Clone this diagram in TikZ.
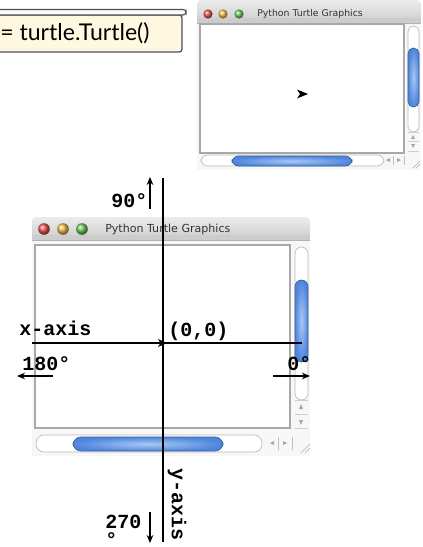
\documentclass[tikz,border=0pt]{standalone}
\usepackage{fontspec}
\setmainfont{Lato}
\newfontfamily\cour{Liberation Mono}
\newfontfamily\lucida{DejaVu Sans}
\usetikzlibrary{arrows.meta}
\definecolor{cream}{HTML}{FFF8E0}
\definecolor{boxline}{HTML}{4A5068}
\definecolor{tlred}{HTML}{E8554E}
\definecolor{tlyel}{HTML}{F5BE4A}
\definecolor{tlgrn}{HTML}{70CC60}
\definecolor{thumb}{HTML}{4F86DC}
\definecolor{thumblt}{HTML}{A9C8F4}
\definecolor{frame}{HTML}{A8A8A8}
\tikzset{
  lbl/.style={font=\cour\bfseries\fontsize{15}{18}\selectfont, inner sep=0pt, anchor=base west},
  axis/.style={line width=1.5pt},
  dirarrow/.style={line width=1.1pt, -{Stealth[length=6pt,width=5pt]}},
  track/.style={draw=frame!80, fill=white, line width=0.5pt},
  thumbbar/.style={draw=thumb!70!black, line width=0.5pt, inner color=thumblt, outer color=thumb},
  btn/.style={fill=gray!70, draw=none},
}
\begin{document}
\begin{tikzpicture}[x=0.75pt,y=-0.75pt]
\useasboundingbox (0,0) rectangle (423,547);

% ---------- top-left code box ----------
\draw[boxline, line width=1pt, fill=cream, rounded corners=2pt] (-5,15) rectangle (182,52);
\draw[boxline, line width=0.9pt, fill=cream!60!white, rounded corners=2.2pt] (-5,9.5) rectangle (186,15);
\node[anchor=west, inner sep=0pt, font=\fontsize{17.3}{20}\selectfont] (code) at (0,33) {= turtle.Turtle()};

% ---------- top-right window ----------
\fill[gray!6] (197,22) rectangle (421,170);
\shade[top color=gray!15, bottom color=gray!40, rounded corners=3pt] (197,0) rectangle (421,23);
\fill[gray!40] (197,18) rectangle (421,23);
\draw[gray!60, line width=0.6pt] (197,23) -- (421,23);
\fill[white] (200,24) rectangle (404,153);
\draw[frame, line width=1.2pt] (200,24) rectangle (404,153);
\shade[ball color=tlred] (208,14) circle (4.6);
\shade[ball color=tlyel] (223,14) circle (4.6);
\shade[ball color=tlgrn] (239,14) circle (4.6);
\node[anchor=west, inner sep=0pt, font=\lucida\fontsize{7}{8}\selectfont, text=black!80] (ttl1) at (257,14) {Python Turtle Graphics};
% vertical scrollbar
\draw[track, rounded corners=4pt] (408,26) rectangle (419,132);
\shade[thumbbar, rounded corners=4pt] (408,48) rectangle (419,107);
\draw[gray!40, line width=0.4pt] (408,132) -- (419,132) (408,141) -- (419,141) (408,151) -- (419,151);
\fill[btn] (411,139) -- (415,139) -- (413,135) -- cycle;
\fill[btn] (411,144) -- (415,144) -- (413,148) -- cycle;
% horizontal scrollbar
\draw[track, rounded corners=5pt] (201,155) rectangle (384,166);
\shade[thumbbar, rounded corners=5pt] (232,156) rectangle (352,166);
\fill[btn] (390,158) -- (390,162) -- (386,160) -- cycle;
\fill[btn] (397,158) -- (397,162) -- (401,160) -- cycle;
\draw[gray!50, line width=0.4pt] (393,156) -- (393,165) (404,156) -- (404,165);
\draw[gray!60, line width=0.4pt] (413,168) -- (420,161) (416,168) -- (420,164);
% turtle
\fill[black] (297,89.5) -- (308,94) -- (297,98.5) -- (300,94) -- cycle;

% ---------- bottom window ----------
\fill[gray!6] (32,239) rectangle (310,456);
\shade[top color=gray!15, bottom color=gray!40, rounded corners=3pt] (32,217) rectangle (310,240);
\fill[gray!40] (32,235) rectangle (310,240);
\draw[gray!60, line width=0.6pt] (32,240) -- (310,240);
\fill[white] (35,245) rectangle (290,428);
\draw[frame, line width=1.3pt] (35,245) rectangle (290,428);
\shade[ball color=tlred] (44,229) circle (5.8);
\shade[ball color=tlyel] (63,229) circle (5.8);
\shade[ball color=tlgrn] (82,229) circle (5.8);
\node[anchor=west, inner sep=0pt, font=\lucida\fontsize{8.3}{10}\selectfont, text=black!80] (ttl2) at (105,229) {Python Turtle Graphics};
% vertical scrollbar
\draw[track, rounded corners=5pt] (295,247) rectangle (308,400);
\shade[thumbbar, rounded corners=5pt] (295,280) rectangle (308,362);
\draw[gray!40, line width=0.4pt] (295,400) -- (308,400) (295,414) -- (308,414) (295,428) -- (308,428);
\fill[btn] (299,409) -- (303,409) -- (301,404) -- cycle;
\fill[btn] (299,420) -- (303,420) -- (301,425) -- cycle;
% horizontal scrollbar
\draw[track, rounded corners=6pt] (36,435) rectangle (262,452);
\shade[thumbbar, rounded corners=6pt] (73,437) rectangle (223,451);
\fill[btn] (274,441) -- (274,445) -- (270,443) -- cycle;
\fill[btn] (283,441) -- (283,445) -- (287,443) -- cycle;
\draw[gray!50, line width=0.4pt] (278,437) -- (278,450) (292,437) -- (292,450);
\draw[gray!60, line width=0.4pt] (301,453) -- (310,444) (305,453) -- (310,448);

% ---------- axes ----------
\coordinate (ytop) at (163,178);
\coordinate (ybot) at (163,542);
\coordinate (xl) at (32,343);
\coordinate (xr) at (302,343);
\draw[axis] (ytop) -- (ybot);
\draw[axis] (xl) -- (xr);
\fill[black] (158,339) -- (167,343) -- (158,347) -- (160.5,343) -- cycle;

% ---------- labels ----------
\node[lbl] (n90) at (111,207) {90°};
\node[lbl] (xaxis) at (19,335) {x-axis};
\node[lbl] (origin) at (168,336) {(0,0)};
\node[lbl] (n180) at (22,370) {180°};
\node[lbl] (n0) at (287,370) {0°};
\node[lbl] (n270) at (105,528) {270};
\node[lbl, text height=8.5pt, text depth=0pt] (n270deg) at (105,546) {°};
\node[lbl, anchor=center, rotate=-90] (yaxis) at (177,504) {y-axis};

% ---------- direction arrows ----------
\coordinate (u0) at (150,209); \coordinate (u1) at (150,177);
\coordinate (l0) at (53,376);  \coordinate (l1) at (17,376);
\coordinate (r0) at (273,376); \coordinate (r1) at (310,376);
\coordinate (d0) at (150,512); \coordinate (d1) at (150,543);
\draw[dirarrow] (u0) -- (u1);
\draw[dirarrow] (l0) -- (l1);
\draw[dirarrow] (r0) -- (r1);
\draw[dirarrow] (d0) -- (d1);
\end{tikzpicture}
\end{document}
